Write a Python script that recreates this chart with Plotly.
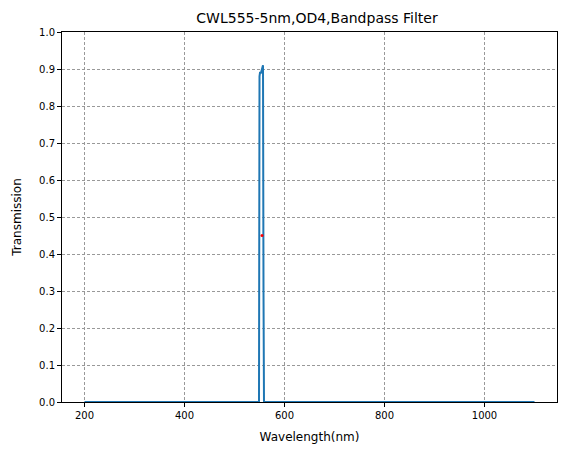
import plotly.graph_objects as go

wavelength = [200, 549, 550, 551, 553, 555, 556, 557, 558, 559, 1100]
transmission = [0.0, 0.0, 0.88, 0.89, 0.89, 0.90, 0.90, 0.91, 0.3, 0.0, 0.0]
marker_x = [555]
marker_y = [0.45]

fig = go.Figure()
fig.add_trace(go.Scatter(x=wavelength, y=transmission, mode="lines",
                         line=dict(color="#1f77b4", width=2), showlegend=False))
fig.add_trace(go.Scatter(x=marker_x, y=marker_y, mode="markers",
                         marker=dict(color="red", size=3), showlegend=False))
grid = dict(showgrid=True, gridcolor="#999999", griddash="3px,2px", gridwidth=0.5,
            showline=True, linecolor="black", mirror=True, ticks="outside",
            ticklen=4, tickcolor="black", zeroline=False, automargin=False)
fig.update_layout(
    width=567, height=455, plot_bgcolor="white", paper_bgcolor="white",
    margin=dict(l=54, r=18, t=24, b=61),
    font=dict(family="DejaVu Sans", size=10, color="black"),
    title=dict(text="CWL555-5nm,OD4,Bandpass Filter", x=0.545, xanchor="center",
               y=0.978, yanchor="middle", font=dict(size=14)),
)
fig.update_xaxes(range=[155, 1145], tickvals=[200, 400, 600, 800, 1000],
                 title=dict(text="Wavelength(nm)", standoff=12), **grid)
fig.update_yaxes(range=[0, 1], dtick=0.1, tickformat=".1f",
                 title=dict(text="Transmission", standoff=14), **grid)
fig.write_html("out.html")
